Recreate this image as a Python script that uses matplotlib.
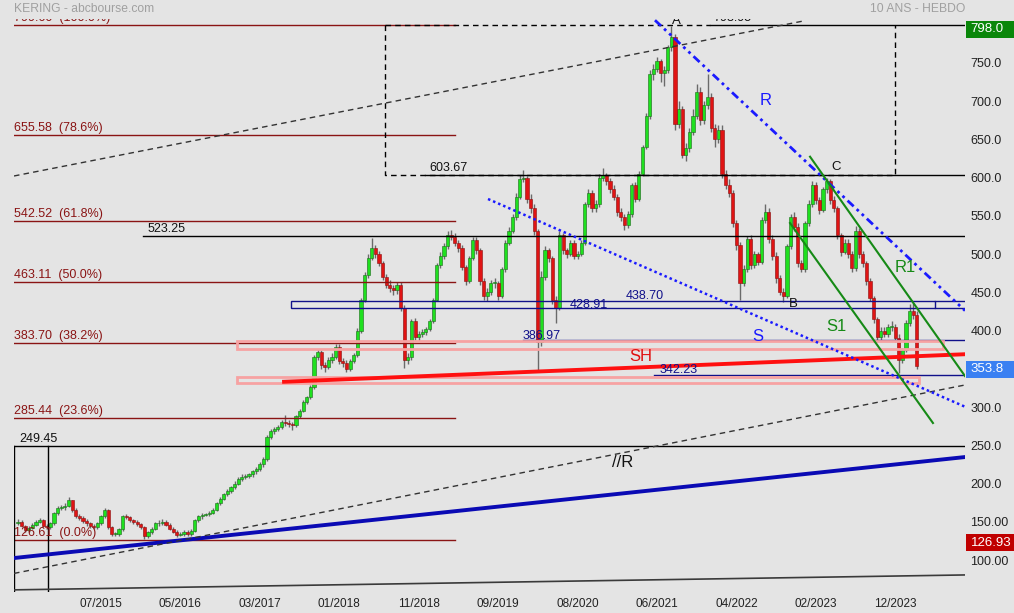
import numpy as np
import matplotlib
matplotlib.use("Agg")
import matplotlib.pyplot as plt
from matplotlib.patches import Rectangle
from matplotlib.transforms import blended_transform_factory

plt.rcParams['font.family'] = ['Liberation Sans', 'DejaVu Sans']

# KERING weekly (one candle every 2 weeks), x axis in weeks
first_open = 148.0
closes = [
    150, 145, 139, 142, 146, 150, 152, 145, 143, 148,
    161, 168, 169, 171, 178, 166, 158, 155, 151, 148,
    145, 143, 148, 157, 165, 143, 134, 134, 140, 157,
    156, 152, 150, 147, 143, 131, 136, 141, 148, 149,
    150, 146, 141, 137, 133, 134, 137, 134, 138, 152,
    157, 159, 160, 162, 166, 174, 180, 186, 190, 195,
    200, 206, 209, 210, 212, 216, 219, 225, 232, 261,
    268, 271, 274, 280, 279, 278, 276, 288, 295, 307,
    313, 326, 366, 372, 355, 352, 362, 366, 379, 360,
    357, 350, 360, 368, 400, 440, 472, 495, 508, 500,
    488, 470, 460, 455, 453, 460, 430, 362, 365, 412,
    392, 396, 398, 402, 412, 440, 485, 497, 510, 525,
    522, 515, 508, 483, 465, 495, 518, 505, 465, 445,
    450, 462, 462, 445, 480, 515, 530, 548, 575, 598,
    600, 572, 560, 530, 385, 470, 505, 495, 440, 430,
    525, 505, 500, 515, 498, 500, 515, 565, 580, 560,
    565, 600, 603, 595, 585, 575, 555, 548, 538, 552,
    590, 572, 605, 640, 680, 735, 742, 752, 736, 740,
    770, 784, 670, 690, 630, 638, 660, 680, 712, 675,
    695, 705, 665, 650, 662, 605, 590, 580, 540, 512,
    462, 480, 520, 485, 500, 490, 545, 555, 520, 498,
    468, 450, 445, 510, 548, 535, 488, 480, 540, 565,
    590, 570, 558, 585, 595, 570, 560, 525, 503, 515,
    500, 482, 530, 500, 488, 465, 442, 415, 392, 400,
    395, 405, 405, 390, 362, 375, 410, 425, 420, 353.8,
]
highs = [
    153, 152, 146, 144, 148, 152, 155, 154, 147, 150,
    163, 171, 172, 174, 183, 179, 168, 160, 157, 153,
    150, 147, 150, 159, 168, 167, 145, 137, 142, 159,
    160, 158, 154, 152, 149, 145, 138, 143, 150, 152,
    153, 152, 148, 143, 139, 136, 139, 139, 140, 154,
    159, 162, 162, 164, 168, 176, 183, 188, 193, 197,
    203, 208, 212, 213, 214, 218, 222, 228, 235, 264,
    271, 274, 277, 283, 289, 283, 281, 290, 298, 309,
    315, 329, 368, 376, 375, 359, 365, 370, 382, 382,
    364, 361, 363, 371, 403, 443, 476, 500, 521, 512,
    504, 491, 474, 466, 460, 463, 464, 433, 370, 415,
    416, 400, 402, 405, 415, 443, 488, 502, 514, 530,
    532, 527, 518, 512, 486, 498, 522, 522, 508, 468,
    455, 466, 468, 465, 483, 518, 535, 552, 580, 603,
    610, 602, 578, 565, 533, 478, 510, 508, 498, 445,
    530, 528, 508, 518, 518, 504, 518, 568, 585, 584,
    570, 604, 612, 606, 600, 590, 579, 560, 552, 556,
    593, 594, 608, 643, 684, 740, 748, 758, 755, 746,
    773, 798, 787, 700, 694, 645, 665, 690, 722, 718,
    700, 735, 710, 670, 668, 668, 610, 598, 584, 545,
    516, 485, 524, 525, 504, 503, 548, 565, 560, 525,
    503, 472, 455, 513, 552, 555, 540, 492, 543, 570,
    596, 594, 575, 588, 599, 598, 576, 563, 528, 520,
    520, 504, 537, 534, 504, 491, 468, 445, 418, 405,
    404, 409, 412, 408, 395, 377, 414, 435, 436, 426,
]
lows = [
    146, 143, 137, 137, 140, 144, 148, 143, 140, 141,
    146, 159, 165, 166, 169, 163, 155, 152, 148, 145,
    142, 140, 141, 146, 155, 141, 131, 131, 132, 138,
    153, 150, 147, 145, 140, 128, 129, 134, 139, 145,
    146, 144, 139, 135, 130, 131, 132, 131, 132, 136,
    150, 154, 157, 158, 160, 164, 172, 178, 184, 188,
    193, 198, 203, 206, 207, 209, 213, 217, 222, 230,
    258, 265, 268, 271, 275, 274, 270, 274, 285, 293,
    304, 311, 324, 362, 350, 346, 350, 358, 363, 356,
    352, 346, 347, 357, 365, 397, 437, 469, 492, 495,
    484, 466, 456, 450, 446, 448, 425, 351, 356, 362,
    388, 386, 392, 394, 399, 410, 438, 482, 494, 507,
    518, 511, 503, 479, 460, 462, 492, 500, 460, 440,
    438, 446, 455, 440, 442, 477, 512, 527, 545, 572,
    594, 567, 553, 525, 348, 380, 466, 490, 435, 410,
    427, 500, 495, 497, 494, 494, 497, 512, 562, 555,
    555, 562, 596, 590, 580, 570, 550, 543, 532, 534,
    549, 568, 569, 602, 637, 677, 728, 738, 725, 720,
    736, 766, 662, 665, 626, 622, 633, 655, 676, 668,
    670, 690, 660, 640, 645, 600, 585, 575, 535, 505,
    440, 458, 477, 480, 482, 486, 487, 540, 515, 492,
    462, 446, 437, 442, 507, 530, 483, 476, 477, 536,
    561, 565, 552, 555, 580, 566, 555, 520, 498, 500,
    495, 476, 478, 495, 483, 460, 438, 410, 385, 388,
    391, 391, 400, 385, 344, 358, 372, 406, 415, 350,
]
assert len(closes) == len(highs) == len(lows)

tick_weeks = [46, 90, 134, 178, 222, 266, 310, 354, 398, 442, 486]
tick_labels = ['07/2015', '05/2016', '03/2017', '01/2018', '11/2018', '09/2019',
               '08/2020', '06/2021', '04/2022', '02/2023', '12/2023']
price_ticks = [100, 150, 200, 250, 300, 400, 450, 500, 550, 600, 650, 700, 750]

# Fibonacci retracement
fib_levels = [799.60, 655.58, 542.52, 463.11, 383.70, 285.44, 126.61]
fib_pcts = ['100.0%', '78.6%', '61.8%', '50.0%', '38.2%', '23.6%', '0.0%']
fib_end = 242.1

# horizontal black levels: value, start week
levels = [603.67, 523.25, 249.45, 798.95]
level_start = [225.5, 69.3, -2.2, 383.4]
level_label_x = [228.0, 71.5, 0.5, 385.0]

# dashed box A..C
box_weeks = [203.6, 486.1]
box_prices = [603.67, 798.95]

# navy zone 428.91 / 438.70
zone_weeks = [151.2, 508.0]
zone_prices = [428.91, 438.70]
navy_lines = [386.97, 342.23]
navy_start = [279.8, 352.4]

# pink zones
pink_weeks = [[121.3, 512.5], [121.3, 499.2]]
pink_prices = [[376.0, 386.5], [331.4, 339.5]]

# trend lines (week, price)
sh_line = ([147.4, 524.65], [333.0, 369.0])
blue_line = ([-2.2, 524.65], [102.6, 234.6])
par_low = ([-2.2, 524.65], [82.5, 328.8])
par_high = ([-2.2, 436.0], [602.0, 805.0])
r_line = ([352.9, 524.65], [805.6, 426.0])
s_line = ([260.4, 524.65], [571.9, 300.4])
r1_line = ([438.8, 524.65], [627.2, 340.5])
s1_line = ([427.7, 506.9], [540.5, 279.1])
base_line = ([-2.2, 524.65], [61.0, 80.5])
start_mark = 16.6

# ---------------------------------------------------------------------------
bg = '#e4e4e4'
fig = plt.figure(figsize=(10.14, 6.13), dpi=100, facecolor=bg)
ax = fig.add_axes([14 / 1014, 21 / 613, 951 / 1014, 573 / 613])
ax.set_facecolor(bg)
ax.set_xlim(-2.2, 524.65)
ax.set_ylim(58.2, 807.2)
for s in ax.spines.values():
    s.set_visible(False)

x = np.arange(len(closes)) * 2.0
c = np.array(closes, dtype=float)
o = np.concatenate([[first_open], c[:-1]])
up = c >= o
ax.vlines(x, lows, highs, color='#6a6a6a', lw=1.0, zorder=2)
body_lo = np.minimum(o, c)
body_h = np.maximum(np.abs(c - o), 1.0)
ax.bar(x[up], body_h[up], bottom=body_lo[up], width=1.75, color='#1fe01f',
       edgecolor='#1a6a1a', lw=0.4, zorder=3)
ax.bar(x[~up], body_h[~up], bottom=body_lo[~up], width=1.75, color='#e01414',
       edgecolor='#8a1010', lw=0.4, zorder=3)

# fibonacci
fib_col = '#8a1414'
for lv, pc in zip(fib_levels, fib_pcts):
    ax.plot([-2.2, fib_end], [lv, lv], color=fib_col, lw=1.0, zorder=4)
    ax.text(-2.0, lv + 1.5, f'{lv:.2f}  ({pc})', color=fib_col, fontsize=9,
            ha='left', va='bottom', clip_on=True, zorder=6)

# black levels
for lv, st, lx in zip(levels, level_start, level_label_x):
    ax.plot([st, 524.65], [lv, lv], color='black', lw=1.0, zorder=4)
    ax.text(lx, lv + 1.5, f'{lv:.2f}', color='#111111', fontsize=9,
            ha='left', va='bottom', clip_on=True, zorder=6)

# dashed box
bx0, bx1 = box_weeks
by0, by1 = box_prices
ax.plot([bx0, bx0, bx1, bx1], [by1, by0, by0, by1], color='black', lw=1.0,
        ls=(0, (4, 3)), zorder=4)
ax.plot([bx0, 383.4], [by1, by1], color='black', lw=1.0, ls=(0, (4, 3)), zorder=4)

# start box near 249.45
ax.plot([-2.0, -2.0], [58.2, 249.45], color='black', lw=1.0, zorder=4)
ax.plot([start_mark, start_mark], [58.2, 249.45], color='black', lw=1.0, zorder=4)
ax.plot(*base_line, color='#3a3a3a', lw=1.2, zorder=4)

# navy zone and lines
navy = '#10108a'
ax.add_patch(Rectangle((zone_weeks[0], zone_prices[0]), zone_weeks[1] - zone_weeks[0],
                       zone_prices[1] - zone_prices[0], fill=False, ec=navy, lw=1.0, zorder=5))
for lv in zone_prices:
    ax.plot([zone_weeks[1], 524.65], [lv, lv], color=navy, lw=1.0, zorder=5)
for lv, st in zip(navy_lines, navy_start):
    ax.plot([st, 524.65], [lv, lv], color=navy, lw=1.0, zorder=4)

# pink zones
for pw, pp in zip(pink_weeks, pink_prices):
    ax.add_patch(Rectangle((pw[0], pp[0]), pw[1] - pw[0], pp[1] - pp[0], fill=False,
                           ec='#f7a2a2', lw=2.0, zorder=5))

# trend lines
ax.plot(*sh_line, color='#ff1010', lw=2.8, zorder=6)
ax.plot(*blue_line, color='#0a0ab4', lw=2.8, zorder=6)
ax.plot(*par_low, color='#333333', lw=1.0, ls=(0, (4, 3)), zorder=6)
ax.plot(*par_high, color='#333333', lw=1.0, ls=(0, (4, 3)), zorder=6)
ax.plot(*r_line, color='#1a1aff', lw=2.0, ls=(0, (3, 1.5, 1, 1.5, 1, 1.5)), zorder=6)
ax.plot(*s_line, color='#1a1aff', lw=1.8, ls=(0, (1, 1.2)), zorder=6)
ax.plot(*r1_line, color='#168a16', lw=1.5, zorder=6)
ax.plot(*s1_line, color='#168a16', lw=1.5, zorder=6)

# annotations
ax.text(414.4, 701.3, 'R', color='#1a1aff', fontsize=12, ha='center', va='center', zorder=7)
ax.text(410.0, 392.8, 'S', color='#1a1aff', fontsize=12, ha='center', va='center', zorder=7)
ax.text(345.2, 365.4, 'SH', color='#e01010', fontsize=12, ha='center', va='center', zorder=7)
ax.text(453.2, 405.9, 'S1', color='#168a16', fontsize=12, ha='center', va='center', zorder=7)
ax.text(491.4, 483.0, 'R1', color='#168a16', fontsize=12, ha='center', va='center', zorder=7)
ax.text(335.2, 228.1, '//R', color='#111111', fontsize=12, ha='center', va='center', zorder=7)
ax.text(364.5, 804.6, 'A', color='#111111', fontsize=9.5, ha='center', va='center',
        clip_on=True, zorder=7)
ax.text(429.4, 434.6, 'B', color='#111111', fontsize=9.5, ha='center', va='center', zorder=7)
ax.text(453.2, 613.7, 'C', color='#111111', fontsize=9.5, ha='center', va='center', zorder=7)
ax.text(336.8, 437.5, '438.70', color=navy, fontsize=9, ha='left', va='bottom', zorder=7)
ax.text(305.8, 433.0, '428.91', color=navy, fontsize=9, ha='left', va='center', zorder=7)
ax.text(279.8, 392.8, '386.97', color=navy, fontsize=9, ha='left', va='center', zorder=7)
ax.text(355.7, 348.4, '342.23', color=navy, fontsize=9, ha='left', va='center', zorder=7)

# axes ticks
ax.yaxis.tick_right()
ax.set_yticks(price_ticks)
ax.set_yticklabels([f'{p:.2f}' if p < 200 else f'{p:.1f}' for p in price_ticks])
ax.set_xticks(tick_weeks)
ax.set_xticklabels(tick_labels)
ax.tick_params(axis='y', length=0, pad=4, labelsize=9, labelcolor='#222222')
ax.tick_params(axis='x', length=0, pad=4, labelsize=8.5, labelcolor='#222222')
for lab in ax.get_yticklabels():
    lab.set_horizontalalignment('left')

# value boxes on the price scale
tr = blended_transform_factory(ax.transAxes, ax.transData)
for val, txt, col in [(798.0, '798.0', '#0a870a'), (353.8, '353.8', '#3a80f2'),
                      (126.93, '126.93', '#c00000')]:
    ax.add_patch(Rectangle((1.0015, val - 15.5), 0.052, 22.5, transform=tr,
                           fc=col, ec='none', clip_on=False, zorder=8))
    ax.text(1.006, val - 4.3, txt, transform=tr, color='white', fontsize=9.5,
            ha='left', va='center', clip_on=False, zorder=9)

fig.text(14 / 1014, 1 - 9 / 613, 'KERING - abcbourse.com', color='#a0a0a0', fontsize=8.7,
         ha='left', va='center')
fig.text(965 / 1014, 1 - 9 / 613, '10 ANS - HEBDO', color='#a0a0a0', fontsize=8.7,
         ha='right', va='center')

fig.savefig('out.png', dpi=100, facecolor=bg)
